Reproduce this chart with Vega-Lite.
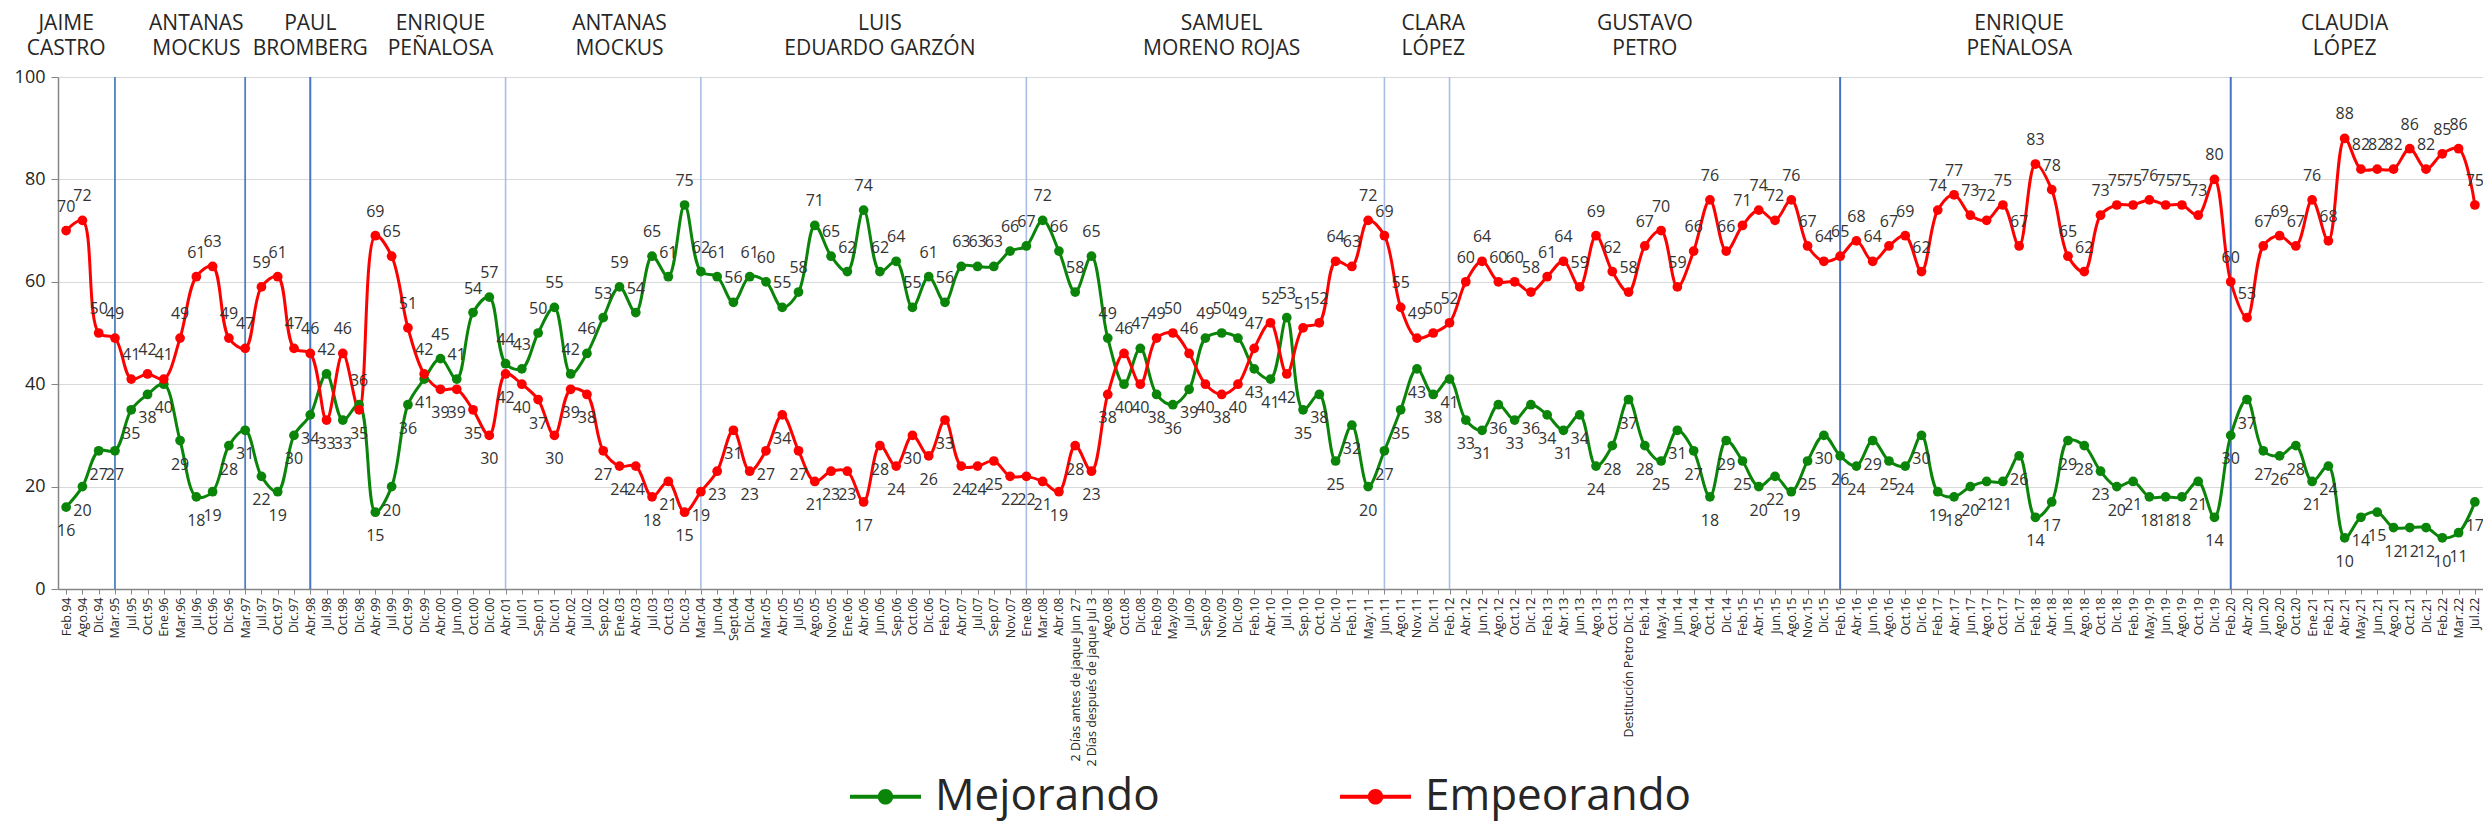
{
  "$schema": "https://vega.github.io/schema/vega-lite/v6.json",
  "width": 2425,
  "height": 512,
  "autosize": {"type": "none"},
  "padding": {"left": 58, "top": 77, "right": 0, "bottom": 240},
  "background": "white",
  "config": {
    "view": {"stroke": null},
    "font": "Open Sans",
    "legend": {"layout": {"bottom": {"anchor": "middle"}}},
    "axisX": {"labelAngle": 270, "labelFontSize": 12.5, "labelFont": "Open Sans", "labelColor": "#262626", "tickSize": 5, "tickColor": "#868686", "domainColor": "#868686", "domainWidth": 1.5, "grid": false, "labelPadding": 3, "labelOverlap": false, "labelLimit": 300},
    "axisY": {"labelFontSize": 18, "labelFont": "Open Sans", "labelColor": "#262626", "tickSize": 7, "tickColor": "#868686", "domainColor": "#868686", "domainWidth": 1.5, "grid": true, "gridColor": "#d9d9d9", "gridWidth": 1.2, "labelPadding": 6, "tickCount": 5}
  },
  "data": {"values": [
    {"n":0,"periodo":"Feb.94","Mejorando":16,"Empeorando":70,"alcalde":"JAIME\nCASTRO"},
    {"n":1,"periodo":"Ago.94","Mejorando":20,"Empeorando":72},
    {"n":2,"periodo":"Dic.94","Mejorando":27,"Empeorando":50},
    {"n":3,"periodo":"Mar.95","Mejorando":27,"Empeorando":49,"cambio":"medio"},
    {"n":4,"periodo":"Jul.95","Mejorando":35,"Empeorando":41},
    {"n":5,"periodo":"Oct.95","Mejorando":38,"Empeorando":42},
    {"n":6,"periodo":"Ene.96","Mejorando":40,"Empeorando":41},
    {"n":7,"periodo":"Mar.96","Mejorando":29,"Empeorando":49},
    {"n":8,"periodo":"Jul.96","Mejorando":18,"Empeorando":61,"alcalde":"ANTANAS\nMOCKUS"},
    {"n":9,"periodo":"Oct.96","Mejorando":19,"Empeorando":63},
    {"n":10,"periodo":"Dic.96","Mejorando":28,"Empeorando":49},
    {"n":11,"periodo":"Mar.97","Mejorando":31,"Empeorando":47,"cambio":"medio"},
    {"n":12,"periodo":"Jul.97","Mejorando":22,"Empeorando":59},
    {"n":13,"periodo":"Oct.97","Mejorando":19,"Empeorando":61},
    {"n":14,"periodo":"Dic.97","Mejorando":30,"Empeorando":47},
    {"n":15,"periodo":"Abr.98","Mejorando":34,"Empeorando":46,"cambio":"grueso","alcalde":"PAUL\nBROMBERG"},
    {"n":16,"periodo":"Jul.98","Mejorando":42,"Empeorando":33},
    {"n":17,"periodo":"Oct.98","Mejorando":33,"Empeorando":46},
    {"n":18,"periodo":"Dic.98","Mejorando":36,"Empeorando":35},
    {"n":19,"periodo":"Abr.99","Mejorando":15,"Empeorando":69},
    {"n":20,"periodo":"Jul.99","Mejorando":20,"Empeorando":65},
    {"n":21,"periodo":"Oct.99","Mejorando":36,"Empeorando":51},
    {"n":22,"periodo":"Dic.99","Mejorando":41,"Empeorando":42},
    {"n":23,"periodo":"Abr.00","Mejorando":45,"Empeorando":39,"alcalde":"ENRIQUE\nPEÑALOSA"},
    {"n":24,"periodo":"Jun.00","Mejorando":41,"Empeorando":39},
    {"n":25,"periodo":"Oct.00","Mejorando":54,"Empeorando":35},
    {"n":26,"periodo":"Dic.00","Mejorando":57,"Empeorando":30},
    {"n":27,"periodo":"Abr.01","Mejorando":44,"Empeorando":42,"cambio":"fino"},
    {"n":28,"periodo":"Jul.01","Mejorando":43,"Empeorando":40},
    {"n":29,"periodo":"Sep.01","Mejorando":50,"Empeorando":37},
    {"n":30,"periodo":"Dic.01","Mejorando":55,"Empeorando":30},
    {"n":31,"periodo":"Abr.02","Mejorando":42,"Empeorando":39},
    {"n":32,"periodo":"Jul.02","Mejorando":46,"Empeorando":38},
    {"n":33,"periodo":"Sep.02","Mejorando":53,"Empeorando":27},
    {"n":34,"periodo":"Ene.03","Mejorando":59,"Empeorando":24,"alcalde":"ANTANAS\nMOCKUS"},
    {"n":35,"periodo":"Abr.03","Mejorando":54,"Empeorando":24},
    {"n":36,"periodo":"Jul.03","Mejorando":65,"Empeorando":18},
    {"n":37,"periodo":"Oct.03","Mejorando":61,"Empeorando":21},
    {"n":38,"periodo":"Dic.03","Mejorando":75,"Empeorando":15},
    {"n":39,"periodo":"Mar.04","Mejorando":62,"Empeorando":19,"cambio":"fino"},
    {"n":40,"periodo":"Jun.04","Mejorando":61,"Empeorando":23},
    {"n":41,"periodo":"Sept.04","Mejorando":56,"Empeorando":31},
    {"n":42,"periodo":"Dic.04","Mejorando":61,"Empeorando":23},
    {"n":43,"periodo":"Mar.05","Mejorando":60,"Empeorando":27},
    {"n":44,"periodo":"Abr.05","Mejorando":55,"Empeorando":34},
    {"n":45,"periodo":"Jul.05","Mejorando":58,"Empeorando":27},
    {"n":46,"periodo":"Ago.05","Mejorando":71,"Empeorando":21},
    {"n":47,"periodo":"Nov.05","Mejorando":65,"Empeorando":23},
    {"n":48,"periodo":"Ene.06","Mejorando":62,"Empeorando":23},
    {"n":49,"periodo":"Abr.06","Mejorando":74,"Empeorando":17},
    {"n":50,"periodo":"Jun.06","Mejorando":62,"Empeorando":28,"alcalde":"LUIS\nEDUARDO GARZÓN"},
    {"n":51,"periodo":"Sep.06","Mejorando":64,"Empeorando":24},
    {"n":52,"periodo":"Oct.06","Mejorando":55,"Empeorando":30},
    {"n":53,"periodo":"Dic.06","Mejorando":61,"Empeorando":26},
    {"n":54,"periodo":"Feb.07","Mejorando":56,"Empeorando":33},
    {"n":55,"periodo":"Abr.07","Mejorando":63,"Empeorando":24},
    {"n":56,"periodo":"Jul.07","Mejorando":63,"Empeorando":24},
    {"n":57,"periodo":"Sep.07","Mejorando":63,"Empeorando":25},
    {"n":58,"periodo":"Nov.07","Mejorando":66,"Empeorando":22},
    {"n":59,"periodo":"Ene.08","Mejorando":67,"Empeorando":22,"cambio":"fino"},
    {"n":60,"periodo":"Mar.08","Mejorando":72,"Empeorando":21},
    {"n":61,"periodo":"Abr.08","Mejorando":66,"Empeorando":19},
    {"n":62,"periodo":"2 Días antes de jaque Jun 27","Mejorando":58,"Empeorando":28},
    {"n":63,"periodo":"2 Días después de jaque Jul 3","Mejorando":65,"Empeorando":23},
    {"n":64,"periodo":"Ago.08","Mejorando":49,"Empeorando":38},
    {"n":65,"periodo":"Oct.08","Mejorando":40,"Empeorando":46},
    {"n":66,"periodo":"Dic.08","Mejorando":47,"Empeorando":40},
    {"n":67,"periodo":"Feb.09","Mejorando":38,"Empeorando":49},
    {"n":68,"periodo":"May.09","Mejorando":36,"Empeorando":50},
    {"n":69,"periodo":"Jul.09","Mejorando":39,"Empeorando":46},
    {"n":70,"periodo":"Sep.09","Mejorando":49,"Empeorando":40},
    {"n":71,"periodo":"Nov.09","Mejorando":50,"Empeorando":38,"alcalde":"SAMUEL\nMORENO ROJAS"},
    {"n":72,"periodo":"Dic.09","Mejorando":49,"Empeorando":40},
    {"n":73,"periodo":"Feb.10","Mejorando":43,"Empeorando":47},
    {"n":74,"periodo":"Abr.10","Mejorando":41,"Empeorando":52},
    {"n":75,"periodo":"Jul.10","Mejorando":53,"Empeorando":42},
    {"n":76,"periodo":"Sep.10","Mejorando":35,"Empeorando":51},
    {"n":77,"periodo":"Oct.10","Mejorando":38,"Empeorando":52},
    {"n":78,"periodo":"Dic.10","Mejorando":25,"Empeorando":64},
    {"n":79,"periodo":"Feb.11","Mejorando":32,"Empeorando":63},
    {"n":80,"periodo":"May.11","Mejorando":20,"Empeorando":72},
    {"n":81,"periodo":"Jun.11","Mejorando":27,"Empeorando":69,"cambio":"fino"},
    {"n":82,"periodo":"Ago.11","Mejorando":35,"Empeorando":55},
    {"n":83,"periodo":"Nov.11","Mejorando":43,"Empeorando":49},
    {"n":84,"periodo":"Dic.11","Mejorando":38,"Empeorando":50,"alcalde":"CLARA\nLÓPEZ"},
    {"n":85,"periodo":"Feb.12","Mejorando":41,"Empeorando":52,"cambio":"fino"},
    {"n":86,"periodo":"Abr.12","Mejorando":33,"Empeorando":60},
    {"n":87,"periodo":"Jun.12","Mejorando":31,"Empeorando":64},
    {"n":88,"periodo":"Ago.12","Mejorando":36,"Empeorando":60},
    {"n":89,"periodo":"Oct.12","Mejorando":33,"Empeorando":60},
    {"n":90,"periodo":"Dic.12","Mejorando":36,"Empeorando":58},
    {"n":91,"periodo":"Feb.13","Mejorando":34,"Empeorando":61},
    {"n":92,"periodo":"Abr.13","Mejorando":31,"Empeorando":64},
    {"n":93,"periodo":"Jun.13","Mejorando":34,"Empeorando":59},
    {"n":94,"periodo":"Ago.13","Mejorando":24,"Empeorando":69},
    {"n":95,"periodo":"Oct.13","Mejorando":28,"Empeorando":62},
    {"n":96,"periodo":"Destitución Petro Dic.13","Mejorando":37,"Empeorando":58},
    {"n":97,"periodo":"Feb.14","Mejorando":28,"Empeorando":67,"alcalde":"GUSTAVO\nPETRO"},
    {"n":98,"periodo":"May.14","Mejorando":25,"Empeorando":70},
    {"n":99,"periodo":"Jun.14","Mejorando":31,"Empeorando":59},
    {"n":100,"periodo":"Ago.14","Mejorando":27,"Empeorando":66},
    {"n":101,"periodo":"Oct.14","Mejorando":18,"Empeorando":76},
    {"n":102,"periodo":"Dic.14","Mejorando":29,"Empeorando":66},
    {"n":103,"periodo":"Feb.15","Mejorando":25,"Empeorando":71},
    {"n":104,"periodo":"Abr.15","Mejorando":20,"Empeorando":74},
    {"n":105,"periodo":"Jun.15","Mejorando":22,"Empeorando":72},
    {"n":106,"periodo":"Ago.15","Mejorando":19,"Empeorando":76},
    {"n":107,"periodo":"Nov.15","Mejorando":25,"Empeorando":67},
    {"n":108,"periodo":"Dic.15","Mejorando":30,"Empeorando":64},
    {"n":109,"periodo":"Feb.16","Mejorando":26,"Empeorando":65,"cambio":"grueso"},
    {"n":110,"periodo":"Abr.16","Mejorando":24,"Empeorando":68},
    {"n":111,"periodo":"Jun.16","Mejorando":29,"Empeorando":64},
    {"n":112,"periodo":"Ago.16","Mejorando":25,"Empeorando":67},
    {"n":113,"periodo":"Oct.16","Mejorando":24,"Empeorando":69},
    {"n":114,"periodo":"Dic.16","Mejorando":30,"Empeorando":62},
    {"n":115,"periodo":"Feb.17","Mejorando":19,"Empeorando":74},
    {"n":116,"periodo":"Abr.17","Mejorando":18,"Empeorando":77},
    {"n":117,"periodo":"Jun.17","Mejorando":20,"Empeorando":73},
    {"n":118,"periodo":"Ago.17","Mejorando":21,"Empeorando":72},
    {"n":119,"periodo":"Oct.17","Mejorando":21,"Empeorando":75},
    {"n":120,"periodo":"Dic.17","Mejorando":26,"Empeorando":67,"alcalde":"ENRIQUE\nPEÑALOSA"},
    {"n":121,"periodo":"Feb.18","Mejorando":14,"Empeorando":83},
    {"n":122,"periodo":"Abr.18","Mejorando":17,"Empeorando":78},
    {"n":123,"periodo":"Jun.18","Mejorando":29,"Empeorando":65},
    {"n":124,"periodo":"Ago.18","Mejorando":28,"Empeorando":62},
    {"n":125,"periodo":"Oct.18","Mejorando":23,"Empeorando":73},
    {"n":126,"periodo":"Dic.18","Mejorando":20,"Empeorando":75},
    {"n":127,"periodo":"Feb.19","Mejorando":21,"Empeorando":75},
    {"n":128,"periodo":"May.19","Mejorando":18,"Empeorando":76},
    {"n":129,"periodo":"Jun.19","Mejorando":18,"Empeorando":75},
    {"n":130,"periodo":"Ago.19","Mejorando":18,"Empeorando":75},
    {"n":131,"periodo":"Oct.19","Mejorando":21,"Empeorando":73},
    {"n":132,"periodo":"Dic.19","Mejorando":14,"Empeorando":80},
    {"n":133,"periodo":"Feb.20","Mejorando":30,"Empeorando":60,"cambio":"grueso"},
    {"n":134,"periodo":"Abr.20","Mejorando":37,"Empeorando":53},
    {"n":135,"periodo":"Jun.20","Mejorando":27,"Empeorando":67},
    {"n":136,"periodo":"Ago.20","Mejorando":26,"Empeorando":69},
    {"n":137,"periodo":"Oct.20","Mejorando":28,"Empeorando":67},
    {"n":138,"periodo":"Ene.21","Mejorando":21,"Empeorando":76},
    {"n":139,"periodo":"Feb.21","Mejorando":24,"Empeorando":68},
    {"n":140,"periodo":"Abr.21","Mejorando":10,"Empeorando":88,"alcalde":"CLAUDIA\nLÓPEZ"},
    {"n":141,"periodo":"May.21","Mejorando":14,"Empeorando":82},
    {"n":142,"periodo":"Jun.21","Mejorando":15,"Empeorando":82},
    {"n":143,"periodo":"Ago.21","Mejorando":12,"Empeorando":82},
    {"n":144,"periodo":"Oct.21","Mejorando":12,"Empeorando":86},
    {"n":145,"periodo":"Dic.21","Mejorando":12,"Empeorando":82},
    {"n":146,"periodo":"Feb.22","Mejorando":10,"Empeorando":85},
    {"n":147,"periodo":"Mar.22","Mejorando":11,"Empeorando":86},
    {"n":148,"periodo":"Jul.22","Mejorando":17,"Empeorando":75}
  ]},
  "transform": [
    {"fold": ["Mejorando", "Empeorando"], "as": ["serie", "valor"]}
  ],
  "layer": [
    {
      "transform": [{"filter": "datum.serie == 'Mejorando' && isValid(datum.cambio)"}],
      "mark": {"type": "rule"},
      "encoding": {
        "x": {"field": "periodo", "type": "ordinal", "sort": {"field": "n", "op": "min"}, "scale": {"type": "point", "padding": 0.5}, "title": null},
        "y": {"datum": 0, "type": "quantitative", "scale": {"domain": [0, 100], "nice": false}, "title": null},
        "y2": {"datum": 100},
        "stroke": {"field": "cambio", "type": "nominal", "scale": {"domain": ["fino", "medio", "grueso"], "range": ["#a9bde6", "#4f81bd", "#4472c4"]}, "legend": null},
        "strokeWidth": {"field": "cambio", "type": "ordinal", "scale": {"domain": ["fino", "medio", "grueso"], "range": [1.6, 2, 5]}, "legend": null}
      }
    },
    {
      "mark": {"type": "line", "strokeWidth": 3, "interpolate": "catmull-rom"},
      "encoding": {
        "x": {"field": "periodo", "type": "ordinal", "sort": {"field": "n", "op": "min"}, "scale": {"type": "point", "padding": 0.5}, "title": null},
        "y": {"field": "valor", "type": "quantitative", "scale": {"domain": [0, 100], "nice": false}, "title": null},
        "color": {
          "field": "serie", "type": "nominal",
          "scale": {"domain": ["Mejorando", "Empeorando"], "range": ["#0a850a", "#ff0000"]},
          "legend": {
            "orient": "bottom", "direction": "horizontal", "title": null,
            "labelFontSize": 44, "labelFont": "Open Sans", "labelColor": "#262626", "labelLimit": 0,
            "symbolType": "M-1,-0.055H1V0.055H-1Z M0.22,0A0.22,0.22,0,1,1,-0.22,0A0.22,0.22,0,1,1,0.22,0Z",
            "symbolSize": 5041, "symbolStrokeWidth": 0, "columnPadding": 180, "labelOffset": 14, "offset": -6,
            "encode": {"symbols": {"update": {"fill": {"scale": "color", "field": "value"}, "opacity": {"value": 1}}}}
          }
        }
      }
    },
    {
      "mark": {"type": "point", "filled": true, "size": 95, "opacity": 1},
      "encoding": {
        "x": {"field": "periodo", "type": "ordinal", "sort": {"field": "n", "op": "min"}, "scale": {"type": "point", "padding": 0.5}, "title": null},
        "y": {"field": "valor", "type": "quantitative", "scale": {"domain": [0, 100], "nice": false}, "title": null},
        "color": {"field": "serie", "type": "nominal"}
      }
    },
    {
      "transform": [{"filter": "datum.serie == 'Mejorando' ? datum.Mejorando >= datum.Empeorando : datum.Empeorando > datum.Mejorando"}],
      "mark": {"type": "text", "fontSize": 16, "font": "Open Sans", "color": "#333333", "baseline": "middle", "dy": -24},
      "encoding": {
        "x": {"field": "periodo", "type": "ordinal", "sort": {"field": "n", "op": "min"}, "scale": {"type": "point", "padding": 0.5}, "title": null},
        "y": {"field": "valor", "type": "quantitative", "scale": {"domain": [0, 100], "nice": false}, "title": null},
        "text": {"field": "valor", "type": "quantitative"}
      }
    },
    {
      "transform": [{"filter": "datum.serie == 'Mejorando' ? datum.Mejorando < datum.Empeorando : datum.Empeorando <= datum.Mejorando"}],
      "mark": {"type": "text", "fontSize": 16, "font": "Open Sans", "color": "#333333", "baseline": "middle", "dy": 24},
      "encoding": {
        "x": {"field": "periodo", "type": "ordinal", "sort": {"field": "n", "op": "min"}, "scale": {"type": "point", "padding": 0.5}, "title": null},
        "y": {"field": "valor", "type": "quantitative", "scale": {"domain": [0, 100], "nice": false}, "title": null},
        "text": {"field": "valor", "type": "quantitative"}
      }
    },
    {
      "transform": [{"filter": "datum.serie == 'Mejorando' && isValid(datum.alcalde)"}],
      "mark": {"type": "text", "fontSize": 21, "font": "Open Sans", "color": "#262626", "align": "center", "baseline": "alphabetic", "lineBreak": "\n", "lineHeight": 25, "dy": -47},
      "encoding": {
        "x": {"field": "periodo", "type": "ordinal", "sort": {"field": "n", "op": "min"}, "scale": {"type": "point", "padding": 0.5}, "title": null},
        "y": {"datum": 100, "type": "quantitative", "scale": {"domain": [0, 100], "nice": false}, "title": null},
        "text": {"field": "alcalde", "type": "nominal"}
      }
    }
  ]
}
